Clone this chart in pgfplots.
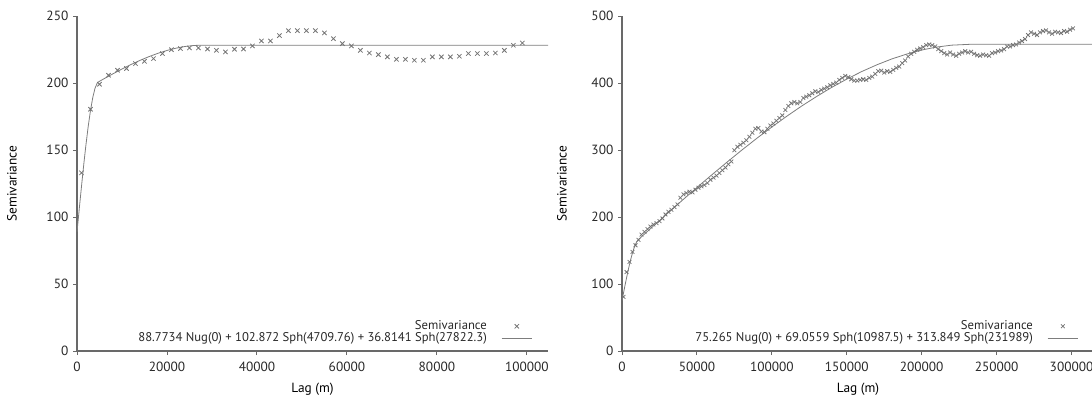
\documentclass[border=0pt]{standalone}
\usepackage{fontspec}
\setmainfont{PT Sans}
\usepackage{pgfplots}
\pgfplotsset{compat=1.18}
\definecolor{axisgray}{RGB}{105,105,105}
\definecolor{txtgray}{RGB}{40,40,40}
\definecolor{markgray}{RGB}{115,115,115}
\definecolor{linegray}{RGB}{125,125,125}
\pgfplotsset{
  vario/.style={
    scale only axis, height=251pt,
    axis x line*=bottom, axis y line*=left,
    axis line style={axisgray, line width=1.1pt},
    tick style={axisgray, line width=0.7pt},
    major tick length=3pt, tick align=outside,
    tick label style={font=\fontsize{10}{12}\selectfont, color=txtgray},
    xticklabel style={yshift=-2pt},
    label style={font=\fontsize{10}{12}\selectfont, color=txtgray},
    scaled ticks=false,
    ymin=0, xmin=0,
    legend style={draw=none, fill=none, font=\fontsize{9.5}{11}\selectfont, text=txtgray,
      legend plot pos=right, legend cell align=right, anchor=south east,
      at={(1,0)}, xshift=-11.5pt, yshift=5pt, inner sep=0pt, row sep=0pt,
      /tikz/column sep=10.5pt,
      nodes={inner sep=0.3pt, text height=6.5pt, text depth=1.8pt}},
    legend image code/.code={\draw[mark repeat=2,mark phase=2,##1] plot coordinates {(0cm,0cm) (0.4cm,0cm) (0.8cm,0cm)};},
  }
}
\begin{document}
\begin{tikzpicture}
\begin{axis}[vario, at={(57.75pt,33.75pt)}, anchor=south west, width=353.25pt,
  xmax=104700, ymax=250, xtick={0,20000,40000,60000,80000,100000}, ytick={0,50,100,150,200,250},
  xticklabels={0,20000,40000,60000,80000,100000}, yticklabels={0,50,100,150,200,250},
  xlabel={Lag (m)}, ylabel={Semivariance},
  every axis x label/.style={at={(axis description cs:0.5,-0.1135)}, anchor=center},
  every axis y label/.style={at={(axis description cs:-0.138,0.5)}, anchor=center, rotate=90}]
\addplot[only marks, mark=x, mark size=2.3pt, color=markgray, mark options={line width=0.6pt}] coordinates {
(1000,133.1) (3000,180.6) (5000,199.3) (7000,206.0) (9000,209.7) (11000,211.0) (13000,214.7)
(15000,216.4) (17000,218.4) (19000,222.2) (21000,225.1) (23000,225.9) (25000,226.4) (27000,226.4)
(29000,225.6) (31000,224.6) (33000,223.4) (35000,225.4) (37000,225.6) (39000,227.9) (41000,231.6)
(43000,231.6) (45000,235.6) (47000,239.3) (49000,239.3) (51000,239.3) (53000,239.3) (55000,237.6)
(57000,233.3) (59000,229.6) (61000,227.9) (63000,224.6) (65000,222.6) (67000,221.4) (69000,219.7)
(71000,217.9) (73000,217.9) (75000,217.2) (77000,217.2) (79000,219.7) (81000,219.7) (83000,219.7)
(85000,220.2) (87000,222.2) (89000,222.2) (91000,222.2) (93000,222.6) (95000,224.6) (97000,228.4)
(99000,230.1)};
\addlegendentry{Semivariance}
\addplot[no marks, color=linegray, line width=0.6pt] coordinates {
(0,88.77) (500,106.09) (1000,123.03) (1500,139.23) (2000,154.33) (2500,167.94) (3000,179.70)
(3500,189.24) (4000,196.20) (4500,200.20) (4709.76,200.90) (6000,203.37) (8000,207.09)
(10000,210.64) (12000,213.99) (14000,217.09) (16000,219.90) (18000,222.39) (20000,224.50)
(22000,226.21) (24000,227.47) (26000,228.23) (27822.3,228.46) (104700,228.46)};
\addlegendentry{88.7734 Nug(0) + 102.872 Sph(4709.76) + 36.8141 Sph(27822.3)}
\end{axis}
\begin{axis}[vario, at={(466.5pt,33.75pt)}, anchor=south west, width=354pt,
  xmax=315000, ymax=500, xtick={0,50000,100000,150000,200000,250000,300000}, ytick={0,100,200,300,400,500},
  xticklabels={0,50000,100000,150000,200000,250000,300000}, yticklabels={0,100,200,300,400,500},
  xlabel={Lag (m)}, ylabel={Semivariance},
  every axis x label/.style={at={(axis description cs:0.5,-0.1135)}, anchor=center},
  every axis y label/.style={at={(axis description cs:-0.127,0.5)}, anchor=center, rotate=90}]
\addplot[only marks, mark=x, mark size=2pt, color=markgray, mark options={line width=0.55pt}] coordinates {
(1000,81) (3000,118) (5000,133) (7000,148) (9000,158) (11000,166) (13000,174) (15000,178)
(17000,182) (19000,186) (21000,189) (23000,191) (25000,194) (27000,198) (29000,204) (31000,208)
(33000,211) (35000,215) (37000,219) (39000,229) (41000,234) (43000,236) (45000,238) (47000,237)
(49000,241) (51000,244) (53000,246) (55000,248) (57000,251) (59000,256) (61000,259) (63000,262)
(65000,266) (67000,270) (69000,274) (71000,279) (73000,283) (75000,300) (77000,305) (79000,308)
(81000,311) (83000,315) (85000,320) (87000,326) (89000,332) (91000,333) (93000,328) (95000,327)
(97000,332) (99000,337) (101000,340) (103000,344) (105000,348) (107000,352) (109000,360) (111000,366)
(113000,370) (115000,372) (117000,370) (119000,372) (121000,378) (123000,380) (125000,382) (127000,385)
(129000,388) (131000,387) (133000,390) (135000,392) (137000,394) (139000,397) (141000,399) (143000,401)
(145000,405) (147000,408) (149000,411) (151000,409) (153000,406) (155000,404) (157000,404) (159000,405)
(161000,406) (163000,405) (165000,408) (167000,410) (169000,414) (171000,418) (173000,419) (175000,416)
(177000,418) (179000,417) (181000,420) (183000,423) (185000,425) (187000,430) (189000,434) (191000,440)
(193000,444) (195000,447) (197000,450) (199000,452) (201000,454) (203000,457) (205000,458) (207000,457)
(209000,455) (211000,451) (213000,448) (215000,445) (217000,443) (219000,446) (221000,443) (223000,441)
(225000,444) (227000,446) (229000,448) (231000,446) (233000,447) (235000,444) (237000,442) (239000,441)
(241000,443) (243000,442) (245000,441) (247000,445) (249000,446) (251000,448) (253000,449) (255000,451)
(257000,455) (259000,455) (261000,457) (263000,458) (265000,461) (267000,463) (269000,466) (271000,472)
(273000,476) (275000,474) (277000,472) (279000,476) (281000,478) (283000,479) (285000,476) (287000,474)
(289000,477) (291000,476) (293000,475) (295000,478) (297000,477) (299000,480) (301000,482)};
\addlegendentry{Semivariance}
\addplot[no marks, color=linegray, line width=0.6pt] coordinates {
(0,75.27) (1000,86.70) (2000,97.97) (3000,108.93) (4000,119.43) (5000,129.29) (6000,138.38)
(7000,146.53) (8000,153.59) (9000,159.39) (10000,163.79) (10987.5,166.60) (15000,174.72)
(20000,184.81) (30000,204.86) (40000,224.69) (50000,244.22) (60000,263.36) (70000,282.0)
(80000,300.23) (90000,317.8) (100000,334.68) (110000,350.8) (120000,366.12) (130000,380.4)
(140000,393.93) (150000,406.2) (160000,417.53) (170000,427.5) (180000,436.29) (190000,443.6)
(200000,449.63) (210000,454.1) (220000,456.93) (231989,458.17) (315000,458.17)};
\addlegendentry{75.265 Nug(0) + 69.0559 Sph(10987.5) + 313.849 Sph(231989)}
\end{axis}
\pgfresetboundingbox
\useasboundingbox (0,0) rectangle (819pt,297pt);
\end{tikzpicture}
\end{document}
